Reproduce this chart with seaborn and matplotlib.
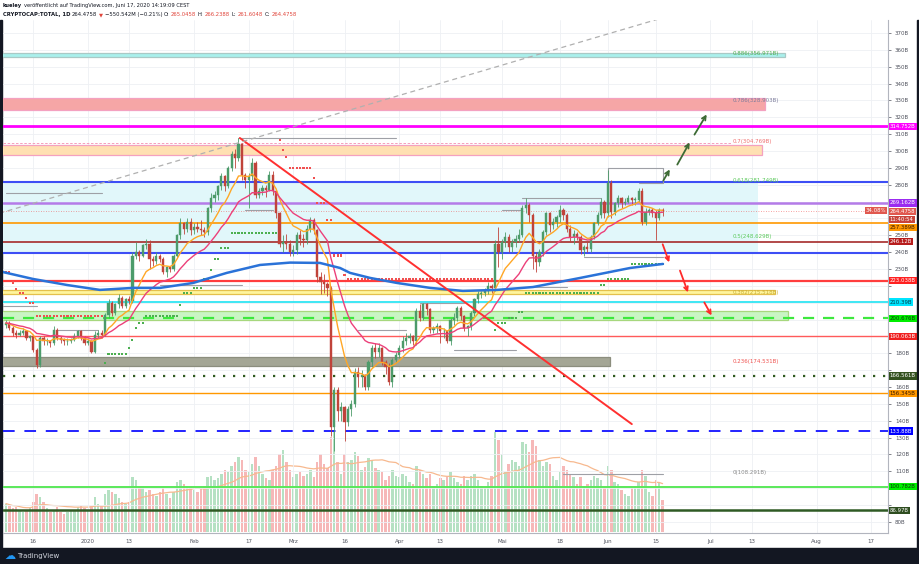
import numpy as np
import pandas as pd
import matplotlib
matplotlib.use("Agg")
import matplotlib.pyplot as plt
import matplotlib.dates as mdates
import matplotlib.transforms as mtransforms
from matplotlib.patches import Rectangle
import seaborn as sns

sns.set_theme(style="white")
plt.rcParams["font.family"] = ["DejaVu Sans"]

# ---------------------------------------------------------------- data
start_date = "2019-12-08"
first_open = 197.0

close_dec = [198,195,192,191,192,193,189,190,182,173,189,187,187,186,194,189,188,187,187,188,190,193,189,186]
close_jan = [187,181,191,192,191,203,210,204,209,213,208,212,211,238,240,238,244,245,236,235,238,236,228,231,230,238,250,257,254,258,253]
close_feb = [255,254,253,252,266,272,274,279,285,279,290,298,296,304,286,283,285,293,274,276,278,277,286,276,263,245,246,245,240]
close_mar = [241,250,248,247,254,259,253,225,222,221,219,136,158,146,148,139,147,150,169,166,167,160,175,183,181,183,175,172,163,176,179]
close_apr = [183,187,189,190,187,205,201,209,206,194,195,196,193,193,187,200,201,207,202,195,196,204,212,215,216,217,220,219,245,240]
close_may = [246,249,243,246,248,250,266,268,262,238,234,240,252,263,256,258,261,265,262,254,249,251,249,241,243,242,249,257,262,270,263]
close_jun = [281,264,269,272,269,270,272,271,271,276,258,264,265,263,260,265.0458,264.4758]

high_dec = [200,199,196,194,194,195,194,191,191,183,190,190,189,188,196,195,190,189,189,189,192,194,194,190]
high_jan = [189,188,193,194,194,204,212,211,210,215,214,213,214,240,246,241,245,248,247,238,240,239,237,232,232,239,251,260,258,260,260]
high_feb = [257,258,259,255,267,275,276,280,287,286,291,300,301,308,305,287,287,296,294,278,280,280,288,288,277,264,250,251,247]
high_mar = [244,252,253,251,256,261,260,254,228,227,222,220,160,160,151,149,149,152,171,172,170,168,176,185,186,186,184,176,174,177,181]
high_apr = [185,190,192,192,191,207,209,210,210,207,196,198,197,195,194,201,204,208,208,203,197,205,213,217,217,219,222,221,247,255]
high_may = [248,252,251,248,250,254,268,272,269,263,240,242,253,264,264,260,262,268,266,263,256,253,252,250,244,246,250,258,264,272,271]
high_jun = [289,283,270,274,273,272,274,273,273,278,278,266,266,266,265,266,266.2388]

low_dec = [195,194,190,189,190,191,188,187,181,171,172,185,185,184,185,188,186,185,185,186,187,189,188,185]
low_jan = [185,180,180,189,189,190,201,202,203,207,207,207,209,210,236,235,237,242,230,232,233,234,227,225,228,229,237,248,251,252,250]
low_feb = [251,252,250,249,250,264,270,271,277,276,278,288,290,294,283,278,266,283,272,272,274,273,276,274,260,243,240,242,238]
low_mar = [238,239,244,243,245,252,251,222,215,216,214,131,122,140,140,128,137,143,148,160,160,158,158,172,177,178,173,168,161,160,174]
low_apr = [177,181,185,186,185,185,199,200,203,192,192,192,186,189,186,185,197,199,200,193,190,194,202,210,213,214,215,216,217,231]
low_may = [236,243,240,240,243,246,249,263,258,230,228,232,238,250,252,254,255,258,259,252,246,245,247,239,238,240,240,248,256,260,260]
low_jun = [261,260,262,267,266,268,269,268,268,270,256,256,262,261,247,259,261.6048]

vol_dec = [28,26,24,25,22,20,22,24,30,38,35,30,24,20,22,25,20,18,20,22,22,25,26,24]
vol_jan = [22,26,35,28,26,38,42,40,38,34,30,28,30,55,52,45,44,40,42,38,36,40,44,38,34,40,50,52,48,46,45]
vol_feb = [42,40,44,46,55,56,52,54,58,62,60,66,70,75,72,62,60,68,75,66,58,54,52,62,66,78,82,70,62]
vol_mar = [55,58,60,56,58,62,55,70,78,68,64,95,100,70,58,78,70,72,80,76,62,65,74,72,64,62,60,52,56,62,56]
vol_apr = [55,58,56,50,48,66,62,58,54,58,46,48,54,52,55,60,54,50,48,56,52,56,58,52,46,44,50,56,100,92]
vol_may = [78,60,68,72,70,66,90,88,80,92,86,72,66,70,68,56,52,60,66,62,58,55,48,55,46,48,52,56,54,52,44]
vol_jun = [66,62,50,48,42,38,36,44,46,50,62,56,40,36,52,50,32]

# 200-day moving average (days after 2020-01-01, value in B)
ma200_days = [-24.9,-16.1,-6.1,3.5,13.2,21.1,30.7,40.6,50.3,59.1,67.8,73.7,76.6,82.5,90.4,100.0,109.6,119.6,130.1,143.9,158.5,168.1]
ma200_vals = [228.2,224.1,220.5,217.6,218.8,218.8,221.7,227.7,232.4,233.8,233.6,230.6,227.7,224.7,221.7,218.8,217.0,217.6,219.3,224.7,230.6,233.0]

# stop-and-reverse dots: start date of each flat run, its value, its trend
sar_start = ['2019-12-08','2019-12-10','2019-12-11','2019-12-12','2019-12-14','2019-12-15','2019-12-17',
             '2020-01-06','2020-01-07','2020-01-13','2020-01-14','2020-01-15','2020-01-16','2020-01-18','2020-01-28',
             '2020-01-29','2020-02-01','2020-02-04','2020-02-06','2020-02-07','2020-02-09','2020-02-12',
             '2020-02-26','2020-02-27','2020-02-28','2020-02-29','2020-03-07','2020-03-08','2020-03-11','2020-03-13',
             '2020-03-16','2020-03-17',
             '2020-04-29','2020-04-30','2020-05-03','2020-05-06','2020-05-08','2020-05-30','2020-06-01','2020-06-08']
sar_value = [228,222,218,216,213,210,202,
             174,179.6,183,188,195,198,202.3,208.7,215.8,219,224,229.5,236,242.5,251.4,
             306.5,300.6,296.5,290,284,269,259,238,226.5,223.8,
             194,198,201,204.5,215.8,220.5,224,233]
sar_trend = ['down']*7 + ['up']*15 + ['down']*10 + ['up']*8
sar_last = '2020-06-17'

# horizontal levels with right-hand price tags
levels = [314.752, 269.162, 257.389, 246.12, 223.038, 210.39, 200.676, 190.063, 166.561, 156.345, 133.88, 100.782, 86.97]
level_tags = ['314.752B','269.162B','257.389B','246.12B','223.038B','210.39B','200.676B','190.063B','166.561B',
              '156.345B','133.88B','100.782B','86.97B']
channel_lines = [281.749, 239.5]
countdown_text = "11:40:54"
change_text = "34.08%"

# fibonacci zones
fib_names = ['0.886(356.971B)','0.786(328.903B)','0.7(304.769B)','0.618(281.749B)','0.5(248.629B)',
             '0.382(215.518B)','0.236(174.531B)','0(108.291B)']
fib_values = [356.971, 328.903, 304.769, 281.749, 248.629, 215.518, 174.531, 108.291]
box_bottom = [355.8, 324.3, 297.6, 239.5, 215.2, 199.8, 172.5]
box_top = [358.1, 331.4, 303.6, 281.749, 217.6, 205.1, 177.8]
box_end_day = [203.8, 197.95, 197.1, 195.9, 200.9, 204.7, 152.6]

# drawn trend lines (days after 2020-01-01, value in B)
red_trend_days = [44.4, 159.0]
red_trend_vals = [307.7, 138.0]
gray_trend_days = [-26.0, 168.0]
gray_trend_vals = [263.0, 379.0]

# projection arrows
green_arrow_x0 = [167.8, 171.9, 176.9]
green_arrow_y0 = [281.0, 290.5, 308.3]
green_arrow_x1 = [170.5, 176.3, 181.3]
green_arrow_y1 = [290.5, 306.5, 323.1]
red_arrow_x0 = [167.75, 172.8, 179.8]
red_arrow_y0 = [246.2, 230.6, 211.6]
red_arrow_x1 = [170.2, 175.7, 182.7]
red_arrow_y1 = [232.4, 214.6, 201.0]

# thin grey range lines
gray_seg_x0 = ['2020-02-14','2020-06-01','2020-06-01','2020-06-17','2020-06-10','2019-12-08','2020-01-22','2020-02-16',
               '2020-05-19','2020-05-01','2020-05-07','2020-05-25','2020-05-10','2020-03-20','2020-04-17','2020-04-07',
               '2019-12-23','2019-12-05']
gray_seg_x1 = ['2020-03-31','2020-06-17','2020-06-01','2020-06-17','2020-06-17','2020-01-05','2020-02-15','2020-02-24',
               '2020-06-17','2020-05-07','2020-05-30','2020-06-17','2020-05-20','2020-04-03','2020-05-05','2020-04-20',
               '2020-01-04','2019-12-17']
gray_seg_y0 = [307.7,290,281,281,281,275,220.5,265,108.3,265,272,237,219.5,193.8,182,209.8,194,208]
gray_seg_y1 = [307.7,290,290,290,281,275,220.5,265,108.3,265,272,237,219.5,193.8,182,209.8,194,208]

tick_dates = ['2019-12-16','2020-01-01','2020-01-13','2020-02-01','2020-02-17','2020-03-01','2020-03-16','2020-04-01',
              '2020-04-13','2020-05-01','2020-05-18','2020-06-01','2020-06-15','2020-07-01','2020-07-13','2020-08-01','2020-08-17']
tick_labels = ['16','2020','13','Feb','17','Mrz','16','Apr','13','Mai','18','Jun','15','Jul','13','Aug','17']

# ---------------------------------------------------------------- frame
closes = close_dec + close_jan + close_feb + close_mar + close_apr + close_may + close_jun
highs = high_dec + high_jan + high_feb + high_mar + high_apr + high_may + high_jun
lows = low_dec + low_jan + low_feb + low_mar + low_apr + low_may + low_jun
volumes = vol_dec + vol_jan + vol_feb + vol_mar + vol_apr + vol_may + vol_jun

df = pd.DataFrame({"date": pd.date_range(start_date, periods=len(closes), freq="D"),
                   "close": closes, "high": highs, "low": lows, "volume": volumes})
df["open"] = df["close"].shift(1).fillna(first_open)
df["x"] = mdates.date2num(df["date"])
df["ema_fast"] = df["close"].ewm(span=10, adjust=False).mean()
df["ema_slow"] = df["close"].ewm(span=21, adjust=False).mean()
df["vol_ma"] = df["volume"].rolling(20, min_periods=1).mean()
df["up"] = df["close"] >= df["open"]

jan1 = mdates.date2num(pd.Timestamp("2020-01-01"))
def dnum(s):
    return mdates.date2num(pd.Timestamp(s))

sar_rows = []
for i, s in enumerate(sar_start):
    e = pd.Timestamp(sar_start[i + 1]) - pd.Timedelta(days=1) if i + 1 < len(sar_start) else pd.Timestamp(sar_last)
    for d in pd.date_range(s, e, freq="D"):
        sar_rows.append((mdates.date2num(d), sar_value[i], sar_trend[i]))
sar = pd.DataFrame(sar_rows, columns=["x", "v", "trend"])

# ---------------------------------------------------------------- figure
W, H = 920, 564
L, R, T, B = 3, 888, 20, 533
fig = plt.figure(figsize=(W / 100, H / 100), dpi=100)
fig.patch.set_facecolor("white")
rect = [L / W, 1 - B / H, (R - L) / W, (B - T) / H]
axv = fig.add_axes(rect)
ax = fig.add_axes(rect)
ax.patch.set_alpha(0)

xmin, xmax = jan1 - 24.85, jan1 + 233.9
ymin, ymax = 73.4, 377.7
for a in (ax, axv):
    a.set_xlim(xmin, xmax)
px_per_b = (B - T) / (ymax - ymin)

# volume
UP, DN = "#4c9b6a", "#c0433a"
axv.bar(df["x"], df["volume"], width=0.72,
        color=np.where(df["up"], "#b5e1c3", "#f6b8b8"), edgecolor="none")
sns.lineplot(x=df["x"], y=df["vol_ma"], ax=axv, color="#f7b98f", linewidth=0.9, legend=False)
axv.set_ylim(-1.5, max(volumes) * 5.13)
axv.axis("off")

ax.set_ylim(ymin, ymax)

# tags: resolve vertical collisions like the platform does
tag_items = []  # (value, text, bg, fg)
tag_bg = ["#ff00ff", "#9b2cf0", "#ff9800", "#b71c1c", "#ff2020", "#00e5ff", "#00ee00", "#f02020",
          "#33511f", "#ff9800", "#0000ff", "#00ee00", "#2e4d1f"]
tag_fg = ["white", "white", "#3a1a00", "white", "white", "#053b4a", "#0a3a0a", "white",
          "white", "#3a1a00", "white", "#0a3a0a", "white"]
for lv, t, bg, fg in zip(levels, level_tags, tag_bg, tag_fg):
    tag_items.append([lv, t, bg, fg])
tag_items.append([closes[-1], "264.4758", "#e0584f", "white"])
tag_items.append([closes[-1] - 8 / px_per_b, countdown_text, "#c8443b", "white"])
tag_items.sort(key=lambda r: -r[0])
min_gap = 8.2 / px_per_b
shown = []
for item in tag_items:
    y = item[0]
    if shown and shown[-1] - y < min_gap:
        y = shown[-1] - min_gap
    shown.append(y)
    item.append(y)

# grid + axis labels (hide tick labels hidden by tags)
yt = np.arange(80, 371, 10)
ax.set_yticks(yt)
tag_vals = [r[4] for r in tag_items]
ax.set_yticklabels(["" if min(abs(v - tv) for tv in tag_vals) < 3.5 else f"{v}B" for v in yt])
ax.set_xticks([dnum(d) for d in tick_dates])
ax.set_xticklabels(tick_labels)
ax.yaxis.tick_right()
ax.grid(True, color="#eef0f4", linewidth=0.6)
ax.set_axisbelow(True)
ax.tick_params(axis="y", labelsize=4.0, colors="#50535e", length=2, width=0.5, pad=3)
ax.tick_params(axis="x", labelsize=4.0, colors="#50535e", length=2, width=0.5, pad=2)
for s in ("top", "left"):
    ax.spines[s].set_visible(False)
for s in ("right", "bottom"):
    ax.spines[s].set_color("#b2b5be")
    ax.spines[s].set_linewidth(0.8)

# zones
box_face = ["#a9f0ec", "#f6a6a6", "#ffe0b2", "#e1f7fa", "#fff59d", "#c9f5c4", "#a4a695"]
box_edge = ["#a9c9c6", "#f4a1c0", "#f4a1c0", "none", "#e4c04c", "#a7d77e", "#8c8e7e"]
for b0, b1, e, fc, ec in zip(box_bottom, box_top, box_end_day, box_face, box_edge):
    ax.add_patch(Rectangle((xmin - 5, b0), jan1 + e - xmin + 5, b1 - b0, facecolor=fc,
                           edgecolor=ec, linewidth=0.9, zorder=1))

ax.plot([xmin, jan1 + 188.3], [fib_values[2]] * 2, color="#f48fb1", lw=0.6, ls=(0, (3, 2)), zorder=2)

# horizontal levels
line_col = ["#ff00ff", "#b47be8", "#ff9800", "#a52a2a", "#ff3d3d", "#1ee3f2", "#3ee83e", "#ff5a5a",
            "#2f5a1f", "#ff9800", "#2222ff", "#5ae85a", "#2f5a24"]
line_ls = ["-", "-", "-", "-", "-", "-", (0, (5, 4)), "-", (0, (1, 3.5)), "-", (0, (6, 5)), "-", "-"]
line_lw = [2.0, 1.8, 1.2, 1.2, 1.6, 1.2, 1.6, 1.0, 1.6, 1.0, 1.4, 1.4, 1.8]
for lv, c, ls, lw in zip(levels, line_col, line_ls, line_lw):
    ax.axhline(lv, color=c, ls=ls, lw=lw, zorder=2)
for lv in channel_lines:
    ax.axhline(lv, color="#3d4ef5", lw=1.5, zorder=2)
ax.axhline(closes[-1], color="#ef5350", lw=0.6, ls=(0, (1, 2)), alpha=0.7, zorder=2)

for x0, x1, y0, y1 in zip(gray_seg_x0, gray_seg_x1, gray_seg_y0, gray_seg_y1):
    ax.plot([dnum(x0), dnum(x1)], [y0, y1], color="#9ea0a6", lw=0.8, zorder=3)

# SAR dots
sns.scatterplot(data=sar, x="x", y="v", hue="trend", palette={"up": "#4caf50", "down": "#f05050"},
                marker="s", s=2.2, linewidth=0, legend=False, ax=ax, zorder=4)

# candles
col = np.where(df["up"], UP, DN)
ax.vlines(df["x"], df["low"], df["high"], colors=col, lw=0.6, zorder=5)
body_lo = np.minimum(df["open"], df["close"])
body_h = np.maximum((df["close"] - df["open"]).abs(), 0.5)
ax.bar(df["x"], body_h, bottom=body_lo, width=0.64, color=col, edgecolor=col, linewidth=0.3, zorder=6)

# moving averages
sns.lineplot(x=df["x"], y=df["ema_fast"], ax=ax, color="#ffa726", linewidth=1.0, legend=False, zorder=7)
sns.lineplot(x=df["x"], y=df["ema_slow"], ax=ax, color="#ec407a", linewidth=1.0, legend=False, zorder=7)
sns.lineplot(x=jan1 + np.array(ma200_days), y=ma200_vals, ax=ax, color="#2a72d8", linewidth=1.8,
             legend=False, zorder=7)
ax.set_xlabel("")
ax.set_ylabel("")

# trend lines
ax.plot(jan1 + np.array(red_trend_days), red_trend_vals, color="#ff3030", lw=1.4, zorder=8)
ax.plot(jan1 + np.array(gray_trend_days), gray_trend_vals, color="#b0b0b0", lw=0.9, ls=(0, (4, 3)), zorder=8)

# arrows
for x0, y0, x1, y1 in zip(green_arrow_x0, green_arrow_y0, green_arrow_x1, green_arrow_y1):
    ax.annotate("", xy=(jan1 + x1, y1), xytext=(jan1 + x0, y0),
                arrowprops=dict(arrowstyle="->", color="#3d6b35", lw=1.3, mutation_scale=7), zorder=9)
for x0, y0, x1, y1 in zip(red_arrow_x0, red_arrow_y0, red_arrow_x1, red_arrow_y1):
    ax.annotate("", xy=(jan1 + x1, y1), xytext=(jan1 + x0, y0),
                arrowprops=dict(arrowstyle="->", color="#ff2a2a", lw=1.3, mutation_scale=7), zorder=9)

# fib labels
fib_col = ["#4caf50", "#7b7b9b", "#ef7070", "#5cc95c", "#5cc95c", "#c9b037", "#ef5350", "#8a8a8a"]
for name, v, c in zip(fib_names, fib_values, fib_col):
    ax.text(jan1 + 188.6, v + 0.8, name, fontsize=4.0, color=c, ha="left", va="center", zorder=10)

# right-hand tags
trans = mtransforms.blended_transform_factory(ax.transAxes, ax.transData)
def tag(y, text, bg, fg, x=1.002, ha="left"):
    ax.text(x, y, text, transform=trans, fontsize=3.9, color=fg, ha=ha, va="center", clip_on=False,
            zorder=20, bbox=dict(boxstyle="square,pad=0.2", fc=bg, ec="none"))
for lv, t, bg, fg, y in tag_items:
    tag(y, t, bg, fg)
tag(closes[-1], change_text, "#e0584f", "white", x=0.998, ha="right")

# frame / header / footer
fig.add_artist(Rectangle((0, 0), 1, 16 / H, transform=fig.transFigure, color="#131722", zorder=0))
fig.add_artist(Rectangle((0, 0), 2.5 / W, 1 - T / H, transform=fig.transFigure, color="#131722", zorder=0))
fig.add_artist(Rectangle((1 - 2.5 / W, 0), 2.5 / W, 1 - T / H, transform=fig.transFigure, color="#131722", zorder=0))
fig.text(4 / W, 8 / H, "\u2601", color="#2196f3", fontsize=8, va="center", ha="left")
fig.text(17 / W, 8 / H, "TradingView", color="#d1d4dc", fontsize=5.0, va="center", ha="left")

renderer = fig.canvas.get_renderer()
def seq(x, y, parts, size):
    for s, c, w in parts:
        t = fig.text(x / W, 1 - y / H, s, color=c, fontsize=size, fontweight=w, va="center", ha="left",
                     family=["DejaVu Sans"])
        x = t.get_window_extent(renderer=renderer).x1 + 1.6

dark, red = "#131722", "#e0453b"
seq(3, 5.5, [("kueley", dark, "bold"),
             ("ver\u00f6ffentlicht auf TradingView.com, Juni 17, 2020 14:19:09 CEST", dark, "normal")], 3.7)
seq(3, 14.5, [("CRYPTOCAP:TOTAL, 1D", dark, "bold"), ("264.4758", dark, "normal"), ("\u25bc", red, "normal"),
              ("\u2212550.542M (\u22120.21%)", dark, "normal"), ("O:", dark, "normal"), ("265.0458", red, "normal"),
              ("H:", dark, "normal"), ("266.2388", red, "normal"), ("L:", dark, "normal"),
              ("261.6048", red, "normal"), ("C:", dark, "normal"), ("264.4758", red, "normal")], 3.75)

fig.savefig("out.png", dpi=100, facecolor="white")
